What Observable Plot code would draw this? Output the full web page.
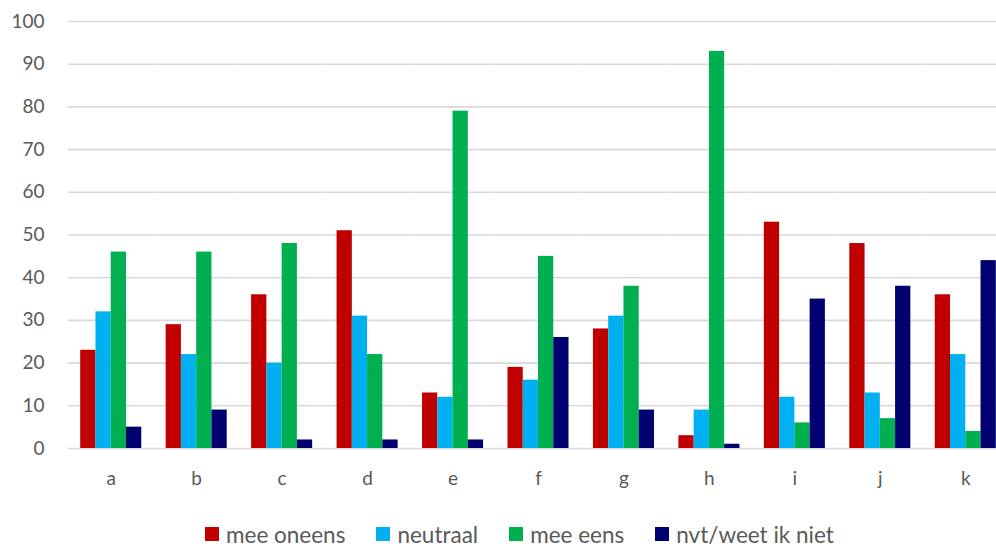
<!DOCTYPE html>
<html>
<head>
<meta charset="utf-8">
<script src="https://cdn.jsdelivr.net/npm/d3@7"></script>
<script src="https://cdn.jsdelivr.net/npm/@observablehq/plot@0.6"></script>
<style>
  html, body { margin: 0; padding: 0; background: #fff; overflow: hidden; width: 996px; height: 546px; position: relative; }
  #chart svg { display: block; overflow: hidden; }
  .legend { position: absolute; left: 205px; top: 520px; height: 28px; display: flex; align-items: center; font-family: Lato, "Open Sans", sans-serif; font-size: 22.5px; color: #595959; white-space: nowrap; }
  .legend .item { display: flex; align-items: center; margin-right: 31px; }
  .legend .sw { width: 14px; height: 14px; margin-right: 7px; }
</style>
</head>
<body>
<div id="chart"></div>
<div class="legend" id="legend"></div>
<script>
const categories = ["a", "b", "c", "d", "e", "f", "g", "h", "i", "j", "k"];
const seriesNames = ["mee oneens", "neutraal", "mee eens", "nvt/weet ik niet"];
const seriesColors = ["#C00000", "#00B0F0", "#00B050", "#000070"];
const meeOneens = [23, 29, 36, 51, 13, 19, 28, 3, 53, 48, 36];
const neutraal = [32, 22, 20, 31, 12, 16, 31, 9, 12, 13, 22];
const meeEens = [46, 46, 48, 22, 79, 45, 38, 93, 6, 7, 4];
const nvt = [5, 9, 2, 2, 2, 26, 9, 1, 35, 38, 44];
const yTicks = [0, 10, 20, 30, 40, 50, 60, 70, 80, 90, 100];

const seriesValues = [meeOneens, neutraal, meeEens, nvt];
const data = [];
categories.forEach((c, i) => {
  seriesNames.forEach((s, j) => {
    data.push({category: c, series: s, value: seriesValues[j][i]});
  });
});

const chart = Plot.plot({
  width: 996,
  height: 500,
  marginLeft: 68,
  marginRight: -12,
  marginTop: 21,
  marginBottom: 52,
  style: {fontFamily: "Lato, 'Open Sans', sans-serif", fontSize: "19px", color: "#595959", background: "#fff"},
  fx: {domain: categories, padding: 0, round: false, label: null},
  x: {domain: seriesNames, paddingInner: 0, paddingOuter: 0.8, round: false, axis: null},
  y: {domain: [0, 100], label: null},
  color: {domain: seriesNames, range: seriesColors},
  marks: [
    Plot.gridY(yTicks, {stroke: "#d9d9d9", strokeOpacity: 1, strokeWidth: 1.6}),
    Plot.axisY(yTicks, {tickSize: 0, tickPadding: 24, label: null, fontSize: 19, fill: "#595959"}),
    Plot.axisFx({anchor: "bottom", tickSize: 0, tickPadding: 23, label: null, fontSize: 19, fill: "#595959"}),
    Plot.barY(data, {fx: "category", x: "series", y: "value", fill: "series", inset: 0})
  ]
});
document.getElementById("chart").appendChild(chart);

const legend = document.getElementById("legend");
seriesNames.forEach((s, j) => {
  const item = document.createElement("div");
  item.className = "item";
  const sw = document.createElement("span");
  sw.className = "sw";
  sw.style.background = seriesColors[j];
  const t = document.createElement("span");
  t.textContent = s;
  item.appendChild(sw);
  item.appendChild(t);
  legend.appendChild(item);
});
</script>
</body>
</html>
